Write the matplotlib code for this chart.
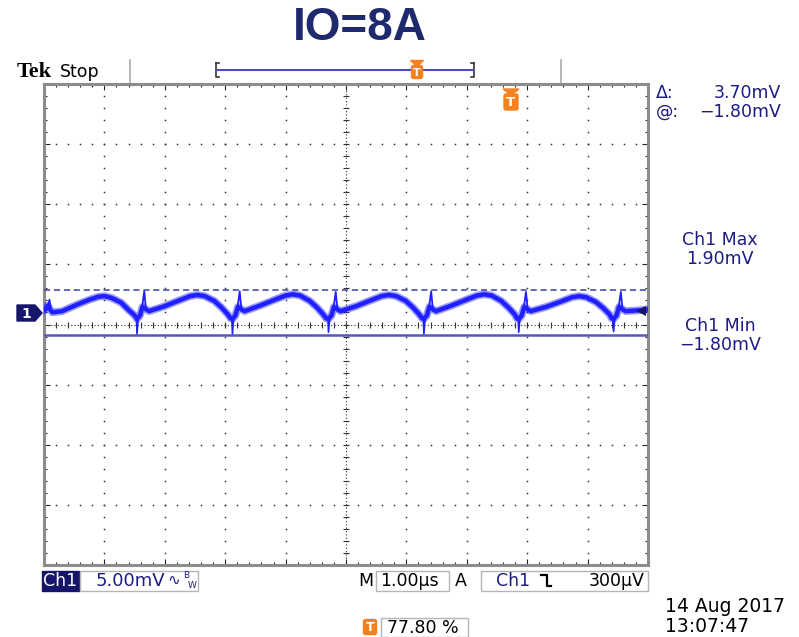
import numpy as np
import matplotlib.pyplot as plt
from matplotlib.patches import Polygon, Rectangle, FancyBboxPatch

# Kurvenwerte (Zeit in us, Spannung in mV)
t_body = [0.00, 0.03, 0.06, 0.10, 0.14, 0.30, 0.55, 0.75, 0.90, 1.00, 1.12, 1.28, 1.40, 1.50,
          1.54, 1.59, 1.63, 1.69, 1.74, 1.99, 2.24, 2.42, 2.54, 2.66, 2.82, 2.94, 3.04, 3.09,
          3.12, 3.17, 3.21, 3.27, 3.32, 3.57, 3.82, 4.00, 4.12, 4.24, 4.40, 4.52, 4.62, 4.67,
          4.71, 4.76, 4.80, 4.86, 4.91, 5.16, 5.41, 5.59, 5.71, 5.83, 5.99, 6.11, 6.21, 6.26,
          6.29, 6.34, 6.38, 6.44, 6.49, 6.74, 6.99, 7.17, 7.29, 7.41, 7.57, 7.69, 7.79, 7.83,
          7.86, 7.91, 7.95, 8.01, 8.06, 8.31, 8.56, 8.74, 8.86, 8.98, 9.14, 9.26, 9.36, 9.40,
          9.43, 9.48, 9.52, 9.58, 9.63, 9.80, 10.00]
v_body = [0.20, 0.30, 0.60, 0.30, 0.05, 0.15, 0.70, 1.10, 1.35, 1.40, 1.25, 0.85, 0.25, -0.20,
          -0.50, -0.20, 0.50, 0.30, 0.15, 0.55, 1.05, 1.40, 1.50, 1.40, 1.00, 0.45, -0.10, -0.45,
          -0.50, -0.20, 0.50, 0.30, 0.15, 0.60, 1.10, 1.45, 1.55, 1.45, 1.00, 0.45, -0.10, -0.45,
          -0.50, -0.20, 0.50, 0.30, 0.15, 0.55, 1.05, 1.40, 1.50, 1.40, 1.00, 0.45, -0.10, -0.45,
          -0.50, -0.20, 0.50, 0.30, 0.15, 0.60, 1.10, 1.45, 1.55, 1.45, 1.00, 0.45, -0.10, -0.45,
          -0.50, -0.20, 0.50, 0.30, 0.15, 0.50, 0.95, 1.30, 1.40, 1.30, 0.90, 0.40, -0.10, -0.45,
          -0.50, -0.20, 0.50, 0.30, 0.15, 0.20, 0.30]
# schmale Nadeln nach unten / oben
dip_t = [1.54, 3.12, 4.71, 6.29, 7.86, 9.43]
dip_v = [-1.75, -1.75, -1.60, -1.75, -1.60, -1.55]
spike_t = [0.09, 1.66, 3.24, 4.83, 6.41, 7.98, 9.55]
spike_v = [1.10, 1.80, 1.80, 1.75, 1.80, 1.75, 1.75]

v_max = 1.90
v_min = -1.80

NAVY = '#1c1c84'
TRACE = '#1f1fff'
ORANGE = '#f5821f'
GRAY = '#8c8c8c'

plt.rcParams['font.family'] = ['DejaVu Sans']

fig = plt.figure(figsize=(7.99, 6.37), dpi=100)
fig.patch.set_facecolor('white')

# ---- Graticule ----
ax = fig.add_axes([44/799, 1 - 565/637, 604/799, 481/637])
top = 19.04
ax.set_xlim(0, 10)
ax.set_ylim(top - 40, top)
ax.set_xticks(np.arange(0, 10.01, 1))
ax.set_xticks(np.arange(0, 10.01, 0.2), minor=True)
ax.set_yticks(top - np.arange(0, 40.01, 5))
ax.set_yticks(top - np.arange(0, 40.01, 1), minor=True)
ax.tick_params(which='both', direction='in', top=True, right=True,
               labelbottom=False, labelleft=False, color='#222222', width=0.8)
ax.tick_params(which='major', length=4)
ax.tick_params(which='minor', length=2.5)
for sp in ax.spines.values():
    sp.set_color(GRAY)
    sp.set_linewidth(2.2)

# Punkte der Teilungslinien
for i in range(1, 10):
    if i == 5:
        continue
    ys = top - np.arange(0, 40.01, 1)
    ax.plot([i] * len(ys), ys, ls='none', marker='s', ms=1.1, color='#333333', mew=0)
for j in range(1, 8):
    if j == 4:
        continue
    xs = np.arange(0, 10.01, 0.2)
    ax.plot(xs, [top - 5 * j] * len(xs), ls='none', marker='s', ms=1.1, color='#333333', mew=0)
# Mittelachsen
yc = top - 20
ax.plot([0, 10], [yc, yc], color='#333333', lw=0.8, ls=(0, (1, 2)))
ax.plot([5, 5], [top - 40, top], color='#333333', lw=0.8, ls=(0, (1, 2)))
xs = np.arange(0, 10.01, 0.2)
ax.plot(xs, [yc] * len(xs), ls='none', marker='|', ms=5, mew=0.8, color='#333333')
ys = top - np.arange(0, 40.01, 1)
ax.plot([5] * len(ys), ys, ls='none', marker='_', ms=5, mew=0.8, color='#333333')

# Max / Min Linien
ax.axhline(v_max, color='#3a3fa8', lw=1.1, ls=(0, (4, 2.5)), zorder=3)
ax.axhline(v_min, color='#5557bf', lw=1.8, zorder=3)

# Signal: breites Rauschband plus Kern
ax.plot(t_body, v_body, color=TRACE, lw=5.5, alpha=0.45, solid_joinstyle='round', zorder=4)
ax.plot(t_body, v_body, color=TRACE, lw=3.2, solid_joinstyle='round', zorder=4)
for t, v in zip(dip_t, dip_v):
    ax.plot([t - 0.01, t, t + 0.02], [-0.4, v, -0.4], color=TRACE, lw=1.2, zorder=4)
for t, v in zip(spike_t, spike_v):
    ax.plot([t - 0.04, t, t + 0.03], [0.3, v, 0.2], color=TRACE, lw=1.3, zorder=4)

# ---- Beschriftung in Pixelkoordinaten ----
ov = fig.add_axes([0, 0, 1, 1])
ov.set_xlim(0, 799)
ov.set_ylim(637, 0)
ov.axis('off')
ov.patch.set_alpha(0)

ov.text(360, 28, 'IO=8A', ha='center', va='center', fontsize=33,
        fontweight='bold', family='Liberation Sans', color='#1f2a6e')

ov.text(17, 72, 'Tek', ha='left', va='center', fontsize=16, fontweight='bold',
        family='Liberation Serif', color='black')
ov.text(60, 72, 'Stop', ha='left', va='center', fontsize=12.5, color='black')
ov.plot([130, 130], [60, 82], color='#aaaaaa', lw=1.2)
ov.plot([561, 561], [60, 82], color='#aaaaaa', lw=1.2)

# Trigger-Bereich oben
ov.plot([216, 216, 219], [63, 77, 77], color='#333333', lw=1.2)
ov.plot([216, 219], [63, 63], color='#333333', lw=1.2)
ov.plot([474, 474, 471], [63, 77, 77], color='#333333', lw=1.2)
ov.plot([474, 471], [63, 63], color='#333333', lw=1.2)
ov.plot([218, 473], [70, 70], color='#4a4fc0', lw=1.5)


def t_marker(x, y, w, h, tri):
    ov.add_patch(FancyBboxPatch((x - w / 2, y - h / 2), w, h,
                                boxstyle='round,pad=0,rounding_size=2',
                                fc=ORANGE, ec=ORANGE, zorder=5))
    if tri:
        ov.add_patch(Polygon([(x - w / 2 - 1, y - h / 2 - 5), (x + w / 2 + 1, y - h / 2 - 5),
                              (x, y - h / 2 + 1)], closed=True, fc=ORANGE, ec=ORANGE, zorder=5))
    ov.text(x, y + 0.5, 'T', ha='center', va='center', color='white',
            fontsize=h * 0.6, fontweight='bold', zorder=6)


t_marker(417, 72, 11, 13, True)
t_marker(511, 102, 14, 16, True)
t_marker(370, 627, 13, 15, False)

# Messwerte rechts
for y, a, b in [(93, '\u0394:', '3.70mV'), (112, '@:', '\u22121.80mV')]:
    ov.text(656, y, a, ha='left', va='center', fontsize=12.5, color=NAVY)
    ov.text(781, y, b, ha='right', va='center', fontsize=12.5, color=NAVY)
for y, s in [(240, 'Ch1 Max'), (259, '1.90mV'), (326, 'Ch1 Min'), (345, '\u22121.80mV')]:
    ov.text(720, y, s, ha='center', va='center', fontsize=12.5, color=NAVY)

# Massesymbol links und Pfeil rechts
ov.add_patch(Polygon([(17, 305), (35, 305), (42, 313), (35, 321), (17, 321)],
                     closed=True, fc='#15156a', ec='#15156a'))
ov.text(26, 313.5, '1', ha='center', va='center', color='white', fontsize=10, fontweight='bold')
ov.plot([641], [311], marker='<', ms=7, color='#15156a', mew=0)

# Statuszeile unten
ov.add_patch(Rectangle((42, 571), 37, 20, fc='#15156a', ec='#15156a'))
ov.text(60.5, 581, 'Ch1', ha='center', va='center', color='white', fontsize=12.5)
ov.add_patch(Rectangle((80, 571), 118, 20, fc='none', ec='#b5b5b5', lw=1))
ov.text(96, 581, '5.00mV', ha='left', va='center', color=NAVY, fontsize=13)
ov.text(167, 580, '\u223f', ha='left', va='center', color=NAVY, fontsize=11)
ov.text(183, 576, 'B', ha='left', va='center', color=NAVY, fontsize=6.5)
ov.text(188, 585, 'W', ha='left', va='center', color=NAVY, fontsize=6.5)

ov.text(366, 581, 'M', ha='center', va='center', color='black', fontsize=12.5)
ov.add_patch(Rectangle((376, 571), 73, 20, fc='none', ec='#b5b5b5', lw=1))
ov.text(380, 581, '1.00\u00b5s', ha='left', va='center', color='black', fontsize=12.5)
ov.text(461, 581, 'A', ha='center', va='center', color='black', fontsize=12.5)
ov.add_patch(Rectangle((481, 571), 167, 20, fc='none', ec='#b5b5b5', lw=1))
ov.text(496, 581, 'Ch1', ha='left', va='center', color=NAVY, fontsize=12.5)
ov.plot([541, 547, 547, 551], [575, 575, 586, 586], color='black', lw=1.6)
ov.text(645, 581, '300\u00b5V', ha='right', va='center', color='black', fontsize=12.5)

ov.add_patch(Rectangle((381, 618), 87, 19, fc='none', ec='#b5b5b5', lw=1))
ov.text(387, 628, '77.80 %', ha='left', va='center', color='black', fontsize=12.5)

ov.text(665, 606, '14 Aug 2017', ha='left', va='center', color='black', fontsize=13.5)
ov.text(665, 626, '13:07:47', ha='left', va='center', color='black', fontsize=13.5)

fig.savefig('out.png', dpi=100)
